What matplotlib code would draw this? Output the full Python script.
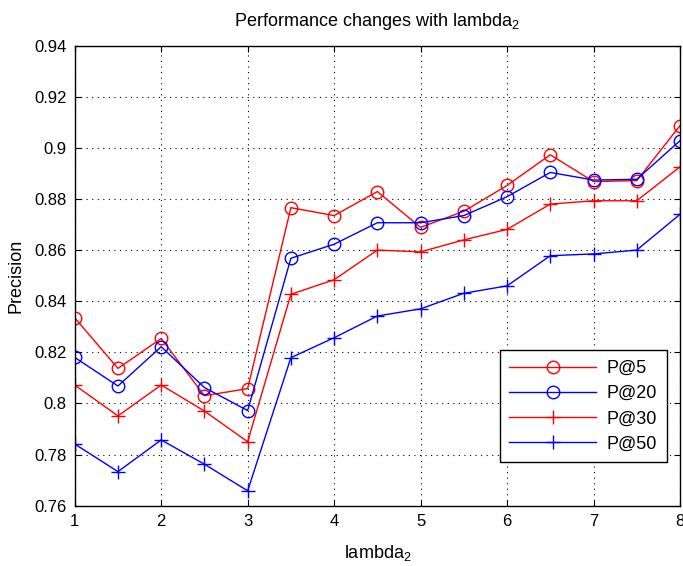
import matplotlib
matplotlib.use('Agg')
import matplotlib.pyplot as plt
from matplotlib.ticker import FuncFormatter

lambdas = [1, 1.5, 2, 2.5, 3, 3.5, 4, 4.5, 5, 5.5, 6, 6.5, 7, 7.5, 8]

p5 = [0.8335, 0.8137, 0.8254, 0.8030, 0.8058, 0.8766, 0.8735, 0.8829,
      0.8689, 0.8752, 0.8853, 0.8973, 0.8868, 0.8872, 0.9087]
p20 = [0.8180, 0.8068, 0.8222, 0.8062, 0.7972, 0.8568, 0.8623, 0.8707,
       0.8707, 0.8735, 0.8809, 0.8904, 0.8874, 0.8877, 0.9028]
p30 = [0.8072, 0.7951, 0.8072, 0.7970, 0.7850, 0.8427, 0.8484, 0.8600,
       0.8593, 0.8640, 0.8681, 0.8780, 0.8793, 0.8793, 0.8926]
p50 = [0.7841, 0.7733, 0.7857, 0.7762, 0.7658, 0.8179, 0.8257, 0.8342,
       0.8370, 0.8431, 0.8460, 0.8578, 0.8585, 0.8600, 0.8740]

plt.rcParams['font.family'] = ['Liberation Sans', 'DejaVu Sans']
plt.rcParams['mathtext.fontset'] = 'custom'
plt.rcParams['mathtext.rm'] = 'Liberation Sans'
plt.rcParams['mathtext.it'] = 'Liberation Sans'
fig = plt.figure(figsize=(6.83, 5.66), dpi=100)
ax = fig.add_axes([0.1094, 0.1067, 0.8862, 0.8126])

ax.plot(lambdas, p5, color='red', marker='o', markersize=9, markerfacecolor='none',
        markeredgecolor='red', linewidth=1, label='P@5')
ax.plot(lambdas, p20, color='blue', marker='o', markersize=9, markerfacecolor='none',
        markeredgecolor='blue', linewidth=1, label='P@20')
ax.plot(lambdas, p30, color='red', marker='+', markersize=10, markeredgewidth=1,
        linewidth=1, label='P@30')
ax.plot(lambdas, p50, color='blue', marker='+', markersize=10, markeredgewidth=1,
        linewidth=1, label='P@50')

ax.set_xlim(1, 8)
ax.set_ylim(0.76, 0.94)
ax.set_xticks(range(1, 9))
ax.set_yticks([0.76 + 0.02 * i for i in range(10)])
ax.yaxis.set_major_formatter(FuncFormatter(lambda v, p: '%g' % round(v, 2)))
ax.tick_params(direction='in', labelsize=12, length=4, top=True, right=True, pad=6)
ax.grid(True, color='black', linestyle=(0, (1, 4)), linewidth=0.8)
for s in ax.spines.values():
    s.set_linewidth(1)

ax.set_title('Performance changes with lambda$_2$', fontsize=13, pad=14)
ax.set_xlabel('lambda$_2$', fontsize=13, labelpad=10)
ax.set_ylabel('Precision', fontsize=13, labelpad=7)

leg = ax.legend(loc='lower right', bbox_to_anchor=(0.979, 0.094), fontsize=13,
                fancybox=False, framealpha=1, edgecolor='black', handlelength=4.8,
                borderpad=0.55, labelspacing=0.45, handletextpad=0.6,
                borderaxespad=0)
leg.get_frame().set_linewidth(1)

fig.savefig('out.png', dpi=100)
